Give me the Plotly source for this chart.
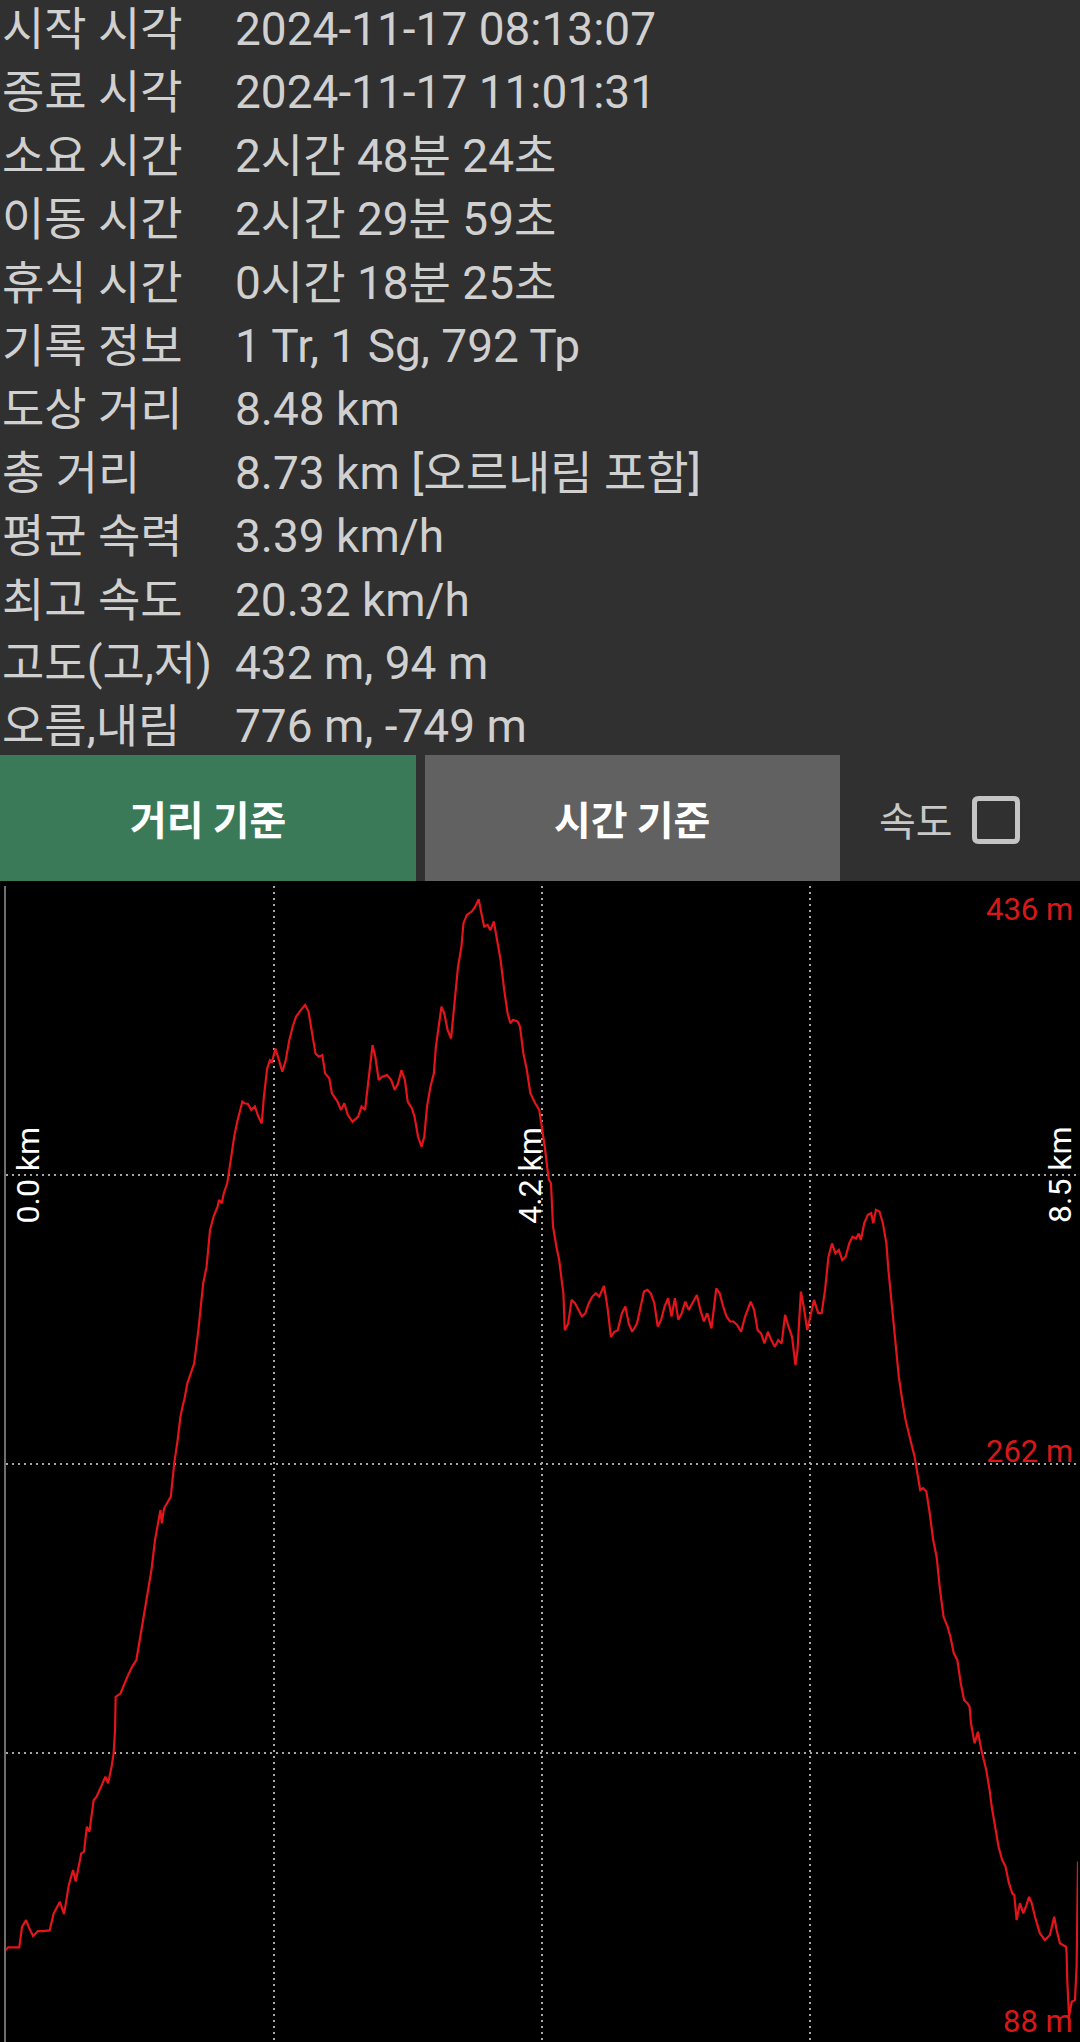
import plotly.graph_objects as go

W, H = 1080, 2042

# ---------------- data ----------------
info_labels = ["시작 시각", "종료 시각", "소요 시간", "이동 시간", "휴식 시간", "기록 정보",
               "도상 거리", "총 거리", "평균 속력", "최고 속도", "고도(고,저)", "오름,내림"]
info_values = ["2024-11-17 08:13:07", "2024-11-17 11:01:31", "2시간 48분 24초",
               "2시간 29분 59초", "0시간 18분 25초", "1 Tr, 1 Sg, 792 Tp", "8.48 km",
               "8.73 km [오르내림 포함]", "3.39 km/h", "20.32 km/h", "432 m, 94 m",
               "776 m, -749 m"]

button_labels = ["거리 기준", "시간 기준"]
checkbox_label = "속도"

x_tick_vals = [0, 4.24, 8.48]
x_tick_text = ["0.0 km", "4.2 km", "8.5 km"]
y_tick_vals = [436, 262, 88]
y_tick_text = ["436 m", "262 m", "88 m"]
x_grid = [0, 2.12, 4.24, 6.36, 8.48]
y_grid = [88, 175, 262, 349, 436]

dist_km = [0.000, 0.022, 0.109, 0.131, 0.163, 0.185, 0.218, 0.256, 0.294, 0.349,
           0.381, 0.430, 0.463, 0.501, 0.534, 0.555, 0.599, 0.621, 0.643, 0.664,
           0.697, 0.719, 0.762, 0.790, 0.811, 0.839, 0.855, 0.866,
           0.871, 0.909, 0.964, 1.002, 1.035, 1.073, 1.100, 1.133, 1.154, 1.182,
           1.209, 1.225, 1.236, 1.253, 1.307, 1.334, 1.361,
           1.383, 1.400, 1.416, 1.438, 1.470, 1.492, 1.525, 1.547, 1.563, 1.590,
           1.617, 1.645, 1.677, 1.688, 1.710, 1.726, 1.753, 1.781,
           1.808, 1.835, 1.862, 1.873, 1.890, 1.917, 1.944, 1.972, 1.999, 2.026,
           2.043, 2.069, 2.091, 2.107, 2.135, 2.157, 2.189, 2.216, 2.244, 2.271,
           2.298, 2.336, 2.369, 2.396, 2.418, 2.451, 2.478, 2.505, 2.527, 2.560,
           2.581, 2.625, 2.652, 2.679, 2.706, 2.744, 2.788, 2.815, 2.843, 2.870,
           2.902, 2.924, 2.951, 2.978, 3.017, 3.050, 3.077, 3.104, 3.131, 3.158,
           3.180, 3.213, 3.234, 3.262, 3.289, 3.311, 3.333, 3.360, 3.387, 3.403,
           3.420, 3.447, 3.469, 3.496, 3.523, 3.551, 3.578, 3.605, 3.621, 3.648,
           3.686, 3.714, 3.741, 3.768, 3.785, 3.812, 3.834, 3.861, 3.888, 3.915,
           3.943, 3.970, 3.992, 4.013, 4.051, 4.068, 4.095, 4.122, 4.150, 4.188,
           4.220, 4.242, 4.264, 4.286, 4.297,
           4.313, 4.329, 4.356, 4.378, 4.394, 4.411, 4.422, 4.449, 4.476, 4.503,
           4.530, 4.558, 4.585, 4.612, 4.640, 4.667, 4.694, 4.732, 4.759, 4.787,
           4.814, 4.841, 4.874, 4.901, 4.928, 4.955, 4.993, 5.021, 5.048, 5.075,
           5.102, 5.130, 5.157, 5.184, 5.211, 5.239, 5.266, 5.293, 5.320, 5.347,
           5.375, 5.402, 5.429, 5.467, 5.494, 5.522, 5.549, 5.582, 5.620, 5.647,
           5.674, 5.701, 5.729, 5.756, 5.783, 5.816, 5.848, 5.892, 5.919, 5.947,
           5.974, 6.001, 6.028, 6.055, 6.083, 6.110, 6.137, 6.164, 6.191, 6.219,
           6.246, 6.262, 6.289, 6.311, 6.339, 6.366, 6.393, 6.426, 6.453, 6.480,
           6.507, 6.535, 6.562, 6.589, 6.616, 6.643, 6.671, 6.698, 6.725, 6.747,
           6.763, 6.790, 6.818, 6.845, 6.861, 6.883, 6.910, 6.937, 6.965, 6.981,
           7.008, 7.036, 7.063, 7.090, 7.117, 7.155,
           7.188, 7.210, 7.232, 7.254, 7.281, 7.308, 7.335, 7.362, 7.389, 7.417,
           7.449, 7.471, 7.498, 7.526, 7.553, 7.580, 7.607, 7.623, 7.634, 7.662,
           7.689, 7.716,
           7.754, 7.781, 7.798, 7.825, 7.852, 7.880, 7.907, 7.934, 7.961, 7.976,
           7.995, 8.021, 8.047, 8.070, 8.093, 8.114, 8.140, 8.179, 8.219, 8.258,
           8.292, 8.311, 8.337, 8.385, 8.390, 8.395, 8.409, 8.430, 8.456, 8.469,
           8.480]

elev_m = [115.7, 116.5, 116.5, 122.7, 124.7, 122.5, 119.9, 121.4, 121.4, 121.6,
          126.7, 130.2, 126.5, 135.3, 139.8, 136.3, 144.8, 145.3, 152.8, 151.3,
          160.8, 161.8, 165.4, 167.9, 165.9, 170.9, 174.9, 181.9,
          191.9, 192.9, 198.0, 201.0, 203.0, 212.0, 218.0, 226.1, 230.1, 239.1,
          244.1, 248.1, 244.1, 248.6, 252.2, 262.2, 269.2,
          276.2, 279.3, 281.8, 286.3, 290.3, 292.3, 302.3, 309.4, 316.4, 321.4,
          332.4, 336.5, 339.5, 341.5, 340.5, 343.5, 346.5, 353.5,
          360.5, 365.5, 369.6, 371.1, 370.6, 370.4, 368.6, 369.6, 366.6, 364.5,
          372.6, 381.1, 383.6, 383.1, 387.1, 384.1, 380.1, 383.6, 389.6, 393.7,
          396.7, 398.7, 400.2, 398.2, 392.6, 385.6, 384.6, 385.1, 379.6, 378.1,
          373.6, 371.1, 368.6, 370.6, 367.1, 365.0, 366.6, 369.6, 368.6, 377.6,
          388.1, 384.6, 377.6, 378.6, 379.1, 377.6, 374.6, 376.6, 380.6, 377.6,
          371.1, 369.1, 366.6, 360.5, 357.5, 360.5, 369.6, 375.6, 379.6, 387.6,
          392.6, 399.7, 397.7, 392.6, 390.1, 400.7, 411.7, 417.7, 424.8, 427.3,
          428.3, 429.8, 432.0, 426.8, 423.8, 424.3, 422.7, 425.3, 419.7, 413.7,
          404.7, 397.7, 394.7, 395.7, 395.2, 393.7, 385.6, 380.6, 373.6, 370.6,
          368.6, 363.5, 357.5, 350.5, 347.5,
          346.5, 333.5, 327.4, 323.4, 318.4, 313.4, 302.3, 304.3, 311.4, 310.4,
          308.4, 306.4, 307.4, 310.4, 312.4, 313.4, 312.4, 315.6, 309.4, 300.3,
          301.8, 302.3, 307.4, 309.4, 304.3, 301.8, 304.3, 309.4, 313.9, 314.4,
          313.4, 310.4, 303.4, 305.4, 309.4, 311.9, 306.4, 311.9, 305.4, 307.4,
          310.9, 308.4, 310.4, 312.9, 308.4, 304.9, 307.4, 302.8, 314.9, 313.4,
          309.4, 306.4, 304.9, 304.9, 303.9, 301.8, 306.4, 310.9, 308.4, 302.3,
          301.3, 298.3, 301.8, 299.3, 297.3, 299.3, 298.3, 306.9, 303.4, 300.3,
          291.8, 296.3, 313.9, 309.4, 302.3, 306.4, 311.4, 307.4, 307.4, 314.4,
          324.4, 328.4, 325.4, 326.4, 323.4, 324.4, 328.4, 330.4, 329.9, 331.4,
          329.4, 334.5, 337.0, 337.5, 334.5, 338.5, 338.0, 334.5, 328.4, 320.4,
          310.4, 300.3, 288.3, 281.3, 275.2, 269.2,
          264.2, 259.2, 254.2, 254.7, 253.7, 247.1, 239.1, 234.1, 224.1, 216.0,
          213.0, 210.0, 205.0, 203.0, 196.0, 190.9, 189.9, 188.9, 183.9, 177.9,
          181.4, 175.9,
          170.0, 163.9, 158.8, 152.8, 146.8, 142.8, 140.8, 135.8, 132.7, 132.3,
          124.7, 129.8, 126.7, 129.0, 131.7, 129.8, 125.7, 120.7, 118.7, 120.2,
          125.7, 121.7, 117.7, 116.7, 114.7, 106.6, 95.6, 100.1, 100.6, 110.7,
          142.3]

# ---------------- helpers ----------------
BG = "#303030"
TXT = "#d0d0d0"
FONT = "Roboto, 'Noto Sans CJK KR', sans-serif"
KFONT = "'Noto Sans CJK KR', sans-serif"


def py(p):  # pixel row -> paper fraction
    return 1 - p / H


def px(p):
    return p / W


fig = go.Figure()
fig.add_trace(go.Scatter(x=dist_km, y=elev_m, mode="lines",
                         line=dict(color="#e3141a", width=2.2), hoverinfo="skip",
                         showlegend=False))

shapes = []
annotations = []

# chart black background (from just under the buttons)
shapes.append(dict(type="rect", xref="paper", yref="paper", x0=0, x1=1, y0=0, y1=py(881),
                   fillcolor="#000000", line=dict(width=0), layer="below"))

# buttons
shapes.append(dict(type="rect", xref="paper", yref="paper", x0=px(0), x1=px(416),
                   y0=py(881), y1=py(755), fillcolor="#3a7a59", line=dict(width=0), layer="below"))
shapes.append(dict(type="rect", xref="paper", yref="paper", x0=px(425), x1=px(840),
                   y0=py(881), y1=py(755), fillcolor="#616161", line=dict(width=0), layer="below"))
for lab, cx in zip(button_labels, [208, 632]):
    annotations.append(dict(xref="paper", yref="paper", x=px(cx), y=py(818), text=lab,
                            showarrow=False, xanchor="center", yanchor="middle",
                            font=dict(family=KFONT, size=40, color="#ffffff", weight="bold")))

# checkbox
annotations.append(dict(xref="paper", yref="paper", x=px(877), y=py(819), text=checkbox_label,
                        showarrow=False, xanchor="left", yanchor="middle",
                        font=dict(family=KFONT, size=40, color="#c8c8c8")))
x0, x1, y0, y1, r = 974.5, 1017.5, 798.5, 841.5, 4
path = (f"M {px(x0 + r)} {py(y0)} L {px(x1 - r)} {py(y0)} Q {px(x1)} {py(y0)} {px(x1)} {py(y0 + r)} "
        f"L {px(x1)} {py(y1 - r)} Q {px(x1)} {py(y1)} {px(x1 - r)} {py(y1)} "
        f"L {px(x0 + r)} {py(y1)} Q {px(x0)} {py(y1)} {px(x0)} {py(y1 - r)} "
        f"L {px(x0)} {py(y0 + r)} Q {px(x0)} {py(y0)} {px(x0 + r)} {py(y0)} Z")
shapes.append(dict(type="path", xref="paper", yref="paper", path=path,
                   line=dict(color="#c4c4c4", width=5), fillcolor="rgba(0,0,0,0)"))

# info rows
for i, (lab, val) in enumerate(zip(info_labels, info_values)):
    yc = py(29 + 63.4 * i)
    annotations.append(dict(xref="paper", yref="paper", x=0, y=yc, text=lab,
                            showarrow=False, xanchor="left", yanchor="middle",
                            font=dict(family=FONT, size=46, color=TXT)))
    annotations.append(dict(xref="paper", yref="paper", x=px(233), y=yc, text=val,
                            showarrow=False, xanchor="left", yanchor="middle",
                            font=dict(family=FONT, size=46, color=TXT)))

# x labels (rotated, inside the plot)
for v, t, anc, sh in zip(x_tick_vals, x_tick_text, ["left", "right", "right"], [2, 8, 2]):
    annotations.append(dict(xref="x", yref="y", x=v, y=y_grid[3], text=t, textangle=-90,
                            showarrow=False, xanchor=anc, yanchor="middle", xshift=sh,
                            borderpad=0,
                            font=dict(family="Roboto, sans-serif", size=32, color="#ffffff")))

# y labels (red, right side)
for v, t, anc, sh in zip(y_tick_vals, y_tick_text, ["top", "bottom", "bottom"], [-3, -8, 0]):
    annotations.append(dict(xref="x", yref="y", x=x_grid[-1], y=v, text=t,
                            showarrow=False, xanchor="right", yanchor=anc, xshift=-3, yshift=sh,
                            font=dict(family="Roboto, sans-serif", size=31, color="#d81818")))

fig.update_layout(
    width=W, height=H, autosize=False,
    margin=dict(l=0, r=0, t=0, b=0, pad=0),
    paper_bgcolor=BG, plot_bgcolor="#000000",
    shapes=shapes, annotations=annotations,
    xaxis=dict(domain=[5.5 / W, 1078 / W], range=[0, 8.48], tickvals=x_grid,
               showticklabels=False, ticks="", showgrid=True, gridcolor="#a6a6a6",
               griddash="2px,4px", gridwidth=1.5, zeroline=False, showline=True,
               linecolor="#6e6e6e", linewidth=2, fixedrange=True),
    yaxis=dict(domain=[0, 1 - 886 / H], range=[88, 436], tickvals=y_grid,
               showticklabels=False, ticks="", showgrid=True, gridcolor="#a6a6a6",
               griddash="2px,4px", gridwidth=1.5, zeroline=False, showline=True,
               linecolor="#6e6e6e", linewidth=2, fixedrange=True),
)

fig.write_html("out.html", config={"displayModeBar": False},
               post_script="document.body.style.margin='0';document.body.style.background='#303030';")
